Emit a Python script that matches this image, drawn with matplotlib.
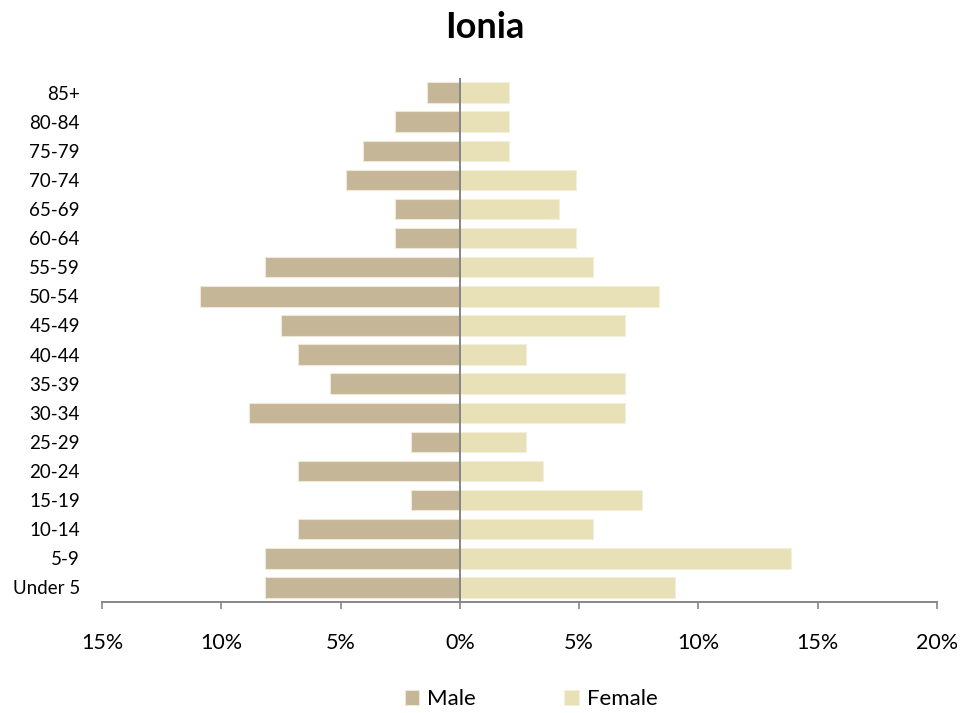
import matplotlib
matplotlib.use("Agg")
import matplotlib.pyplot as plt
from matplotlib.ticker import FixedLocator, FixedFormatter

plt.rcParams['font.family'] = ['Lato', 'DejaVu Sans']

age_groups = ["Under 5", "5-9", "10-14", "15-19", "20-24", "25-29", "30-34", "35-39",
              "40-44", "45-49", "50-54", "55-59", "60-64", "65-69", "70-74", "75-79",
              "80-84", "85+"]
male_pct = [8.16, 8.16, 6.80, 2.04, 6.80, 2.04, 8.84, 5.44, 6.80, 7.48, 10.88, 8.16,
            2.72, 2.72, 4.76, 4.08, 2.72, 1.36]
female_pct = [9.03, 13.89, 5.56, 7.64, 3.47, 2.78, 6.94, 6.94, 2.78, 6.94, 8.33, 5.56,
              4.86, 4.17, 4.86, 2.08, 2.08, 2.08]
x_ticks = [-15, -10, -5, 0, 5, 10, 15, 20]
x_tick_labels = ["15%", "10%", "5%", "0%", "5%", "10%", "15%", "20%"]
title = "Ionia"

male_color = "#C4B696"
female_color = "#E8E1B7"
axis_grey = "#868686"

fig = plt.figure(figsize=(9.79, 7.13), dpi=100)
ax = fig.add_axes([102/979, 1-602/713, (937-102)/979, (602-78)/713])

y = list(range(len(age_groups)))
ax.barh(y, [-v for v in male_pct], height=0.7, color=male_color,
        edgecolor="#EDE8DA", linewidth=0.8, label="Male")
ax.barh(y, female_pct, height=0.7, color=female_color,
        edgecolor="#F3EFDA", linewidth=0.8, label="Female")

ax.set_xlim(-15, 20)
ax.set_ylim(-0.5, len(age_groups) - 0.5)
ax.axvline(0, color=axis_grey, linewidth=1.4, zorder=3)

ax.xaxis.set_major_locator(FixedLocator(x_ticks))
ax.xaxis.set_major_formatter(FixedFormatter(x_tick_labels))
ax.set_yticks(y)
ax.set_yticklabels(age_groups)

for s in ["top", "right", "left"]:
    ax.spines[s].set_visible(False)
ax.spines["bottom"].set_color(axis_grey)
ax.spines["bottom"].set_linewidth(1.4)

ax.tick_params(axis="x", direction="out", length=5, width=1.2, color=axis_grey,
               labelsize=15.5, pad=17, labelcolor="black")
ax.tick_params(axis="y", length=0, labelsize=13.5, pad=16, labelcolor="black")

fig.suptitle(title, x=485/979, y=1-27/713, va="center", fontsize=26, fontweight="bold")

fig.legend(loc="center", bbox_to_anchor=(531/979, 1-699/713), ncol=2, frameon=False,
           fontsize=16, handlelength=0.65, handleheight=0.65, handletextpad=0.35,
           columnspacing=4.0)

fig.savefig("out.png", dpi=100, facecolor="white")
